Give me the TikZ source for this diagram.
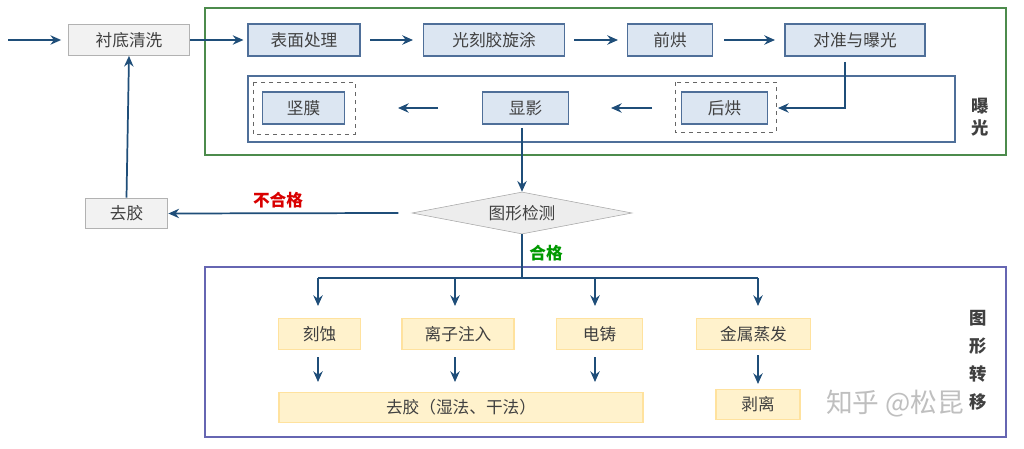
\documentclass[tikz,border=0pt]{standalone}
\usepackage{fontspec}
\setmainfont{Noto Sans CJK SC}
\usetikzlibrary{shapes.geometric,arrows.meta}
\definecolor{nav}{HTML}{1F4E79}
\definecolor{bfill}{HTML}{DCE6F2}
\definecolor{bdraw}{HTML}{4F6F99}
\definecolor{yfill}{HTML}{FFF2CC}
\definecolor{ydraw}{HTML}{FFE29E}
\begin{document}
\begin{tikzpicture}[x=0.75pt,y=-0.75pt,
  font=\fontsize{12.5}{14}\selectfont,
  bx/.style={draw=bdraw,fill=bfill,line width=0.8pt,inner sep=0pt,minimum height=24pt,text=black!75},
  gx/.style={draw=black!30,fill=black!5,line width=0.8pt,inner sep=0pt,minimum height=23pt,text=black!75},
  yx/.style={draw=ydraw,fill=yfill,line width=0.8pt,inner sep=0pt,minimum height=23pt,text=black!75},
  dsh/.style={draw=black!60,dashed,line width=0.7pt},
  ar/.style={-{Stealth[length=8pt,width=7pt]},draw=nav,line width=1.3pt},
  ln/.style={draw=nav,line width=1.3pt}]
\useasboundingbox (0,0) rectangle (1024,449);
\fill[white] (0,0) rectangle (1024,449);
% frames
\draw[draw=green!35!black!70,line width=1pt] (205,8) rectangle (1006,155);
\draw[draw=bdraw,line width=1pt] (248,76) rectangle (955,142);
\draw[draw=blue!50!black!60,line width=1pt] (205,267) rectangle (1006,437);
\draw[dsh] (253,82) rectangle (355,134);
\draw[dsh] (675,82) rectangle (776,132);
% nodes
\node[gx,minimum width=91pt] (cd) at (129,40) {衬底清洗};
\node[bx,minimum width=84pt] (bm) at (304,40) {表面处理};
\node[bx,minimum width=106pt] (gk) at (494,40) {光刻胶旋涂};
\node[bx,minimum width=64pt] (qh) at (670,40) {前烘};
\node[bx,minimum width=105pt] (dz) at (855,40) {对准与曝光};
\node[bx,minimum width=62pt] (jm) at (303.5,108) {坚膜};
\node[bx,minimum width=64pt] (xy) at (525.5,108) {显影};
\node[bx,minimum width=65pt] (hh) at (724.5,108) {后烘};
\node[draw=black!35,fill=black!7,diamond,aspect=5.2,inner sep=1pt,minimum width=165pt,minimum height=31.5pt,text=black!75] (tx) at (522,213) {图形检测};
\node[gx,minimum width=62pt] (qj) at (126.5,213.5) {去胶};
\node[yx,minimum width=61pt] (ks) at (319.5,334) {刻蚀};
\node[yx,minimum width=84pt] (lz) at (458,334) {离子注入};
\node[yx,minimum width=65pt] (dzh) at (599.5,334) {电铸};
\node[yx,minimum width=85pt] (js) at (753.5,334) {金属蒸发};
\node[yx,minimum width=273pt] (qj2) at (461,407.5) {去胶（湿法、干法）};
\node[yx,minimum width=63pt] (bl) at (758,404.5) {剥离};
\node[text=black!75,align=center,font=\fontsize{13}{17}\selectfont\bfseries] at (980,117) {曝\\光};
\node[text=black!75,align=center,font=\fontsize{13}{21}\selectfont\bfseries] at (978,360) {图\\形\\转\\移};
\node[text=red!85!black,font=\fontsize{12.5}{14}\selectfont\bfseries] at (278,200) {不合格};
\node[text=green!60!black,font=\fontsize{12.5}{14}\selectfont\bfseries] at (546,253) {合格};
\node[text=black!25,font=\fontsize{20}{22}\selectfont] at (895,404) {知乎 @松昆};
% coordinates
\coordinate (in) at (8,40);
\coordinate (a1) at (370,40); \coordinate (a2) at (413,40);
\coordinate (b1) at (574,40); \coordinate (b2) at (618,40);
\coordinate (c1) at (724,40); \coordinate (c2) at (775,40);
\coordinate (d1) at (845,62); \coordinate (d2) at (778,108);
\coordinate (e1) at (652,108); \coordinate (e2) at (611,108);
\coordinate (f1) at (438,108); \coordinate (f2) at (398,108);
\coordinate (br) at (522,278);
\coordinate (t1) at (318,278); \coordinate (t4) at (758,278);
\coordinate (t2) at (455,278); \coordinate (t3) at (595,278);
% connectors
\draw[ar] (in) -- ([xshift=-5pt]cd.west);
\draw[ar] (cd.east) -- ([xshift=-3pt]bm.west);
\draw[ar] (a1) -- (a2);
\draw[ar] (b1) -- (b2);
\draw[ar] (c1) -- (c2);
\draw[ar] (d1) |- (d2);
\draw[ar] (e1) -- (e2);
\draw[ar] (f1) -- (f2);
\draw[ar] (522,128) -- (tx.north);
\draw[ar] ([xshift=-10pt]tx.west) -- (qj.east);
\draw[ar] (qj.north) -- (cd.south);
\draw[ln] (tx.south) -- (br);
\draw[ln] (t1) -- (t4);
\draw[ar] (t1) -- (318,306);
\draw[ar] (t2) -- (455,306);
\draw[ar] (t3) -- (595,306);
\draw[ar] (t4) -- (758,306);
\draw[ar] (318,357) -- (318,382);
\draw[ar] (455,357) -- (455,382);
\draw[ar] (595,357) -- (595,382);
\draw[ar] (758,355) -- (758,384);
\end{tikzpicture}
\end{document}
